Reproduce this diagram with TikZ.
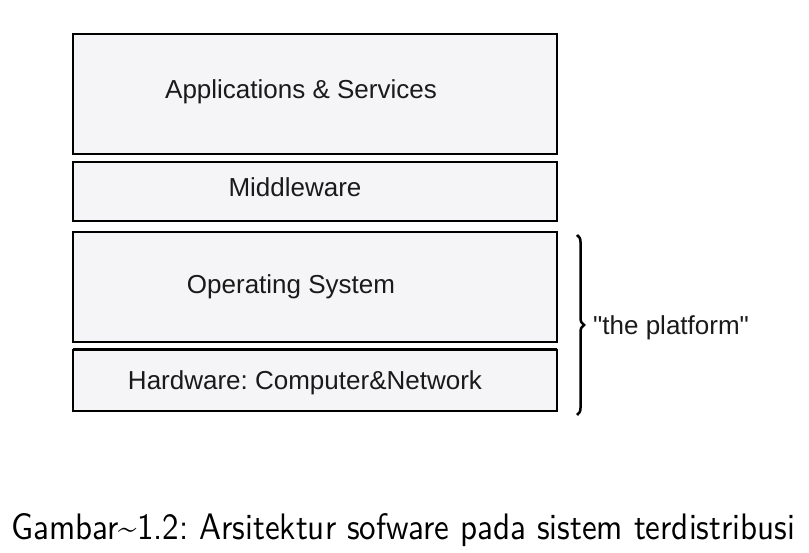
\documentclass[tikz,border=0pt]{standalone}
\usepackage{fontspec}
\setmainfont{Liberation Sans}
\newfontfamily\plainquote{Liberation Sans}[Ligatures=TeXOff]
\setsansfont{Latin Modern Sans}
\usetikzlibrary{decorations.pathreplacing}
\begin{document}
\frenchspacing
\begin{tikzpicture}[x=1pt,y=1pt,
  layer/.style={draw=black, line width=1.5pt, fill=boxfill, minimum width=484pt, inner sep=0pt, outer sep=0pt},
  lbl/.style={font=\fontsize{26}{30}\selectfont, anchor=base, inner sep=0pt, text=textgray}]
\definecolor{boxfill}{HTML}{F5F5F7}
\definecolor{textgray}{HTML}{1A1A1A}
\useasboundingbox (0,0) rectangle (809,553);
\node[layer, minimum height=120pt] (apps) at (315,459) {};
\node[layer, minimum height=59pt] (mw) at (315,361.5) {};
\node[layer, minimum height=110pt] (os) at (315,266) {};
\node[layer, minimum height=61pt] (hw) at (315,172.5) {};
\draw[line width=3pt] (hw.north west) -- (hw.north east);
\node[lbl] (tapps) at (301,454) {Applications \& Services};
\node[lbl] (tmw) at (295,356) {Middleware};
\node[lbl] (tos) at (291,259) {Operating System};
\node[lbl] (thw) at (305,163) {Hardware: Computer\&Network};
\coordinate (btop) at (577,318);
\coordinate (bbot) at (577,138);
\draw[line width=2.5pt, decorate, decoration={brace, amplitude=7pt}] (btop) -- (bbot);
\node[lbl, anchor=base west] (plat) at (593,218) {\plainquote "the platform"};
\node[anchor=base west, inner sep=0pt] (cap) at (11,13) {\resizebox{784pt}{26pt}{\sffamily Gambar\textasciitilde 1.2: Arsitektur sofware pada sistem terdistribusi}};
\end{tikzpicture}
\end{document}
